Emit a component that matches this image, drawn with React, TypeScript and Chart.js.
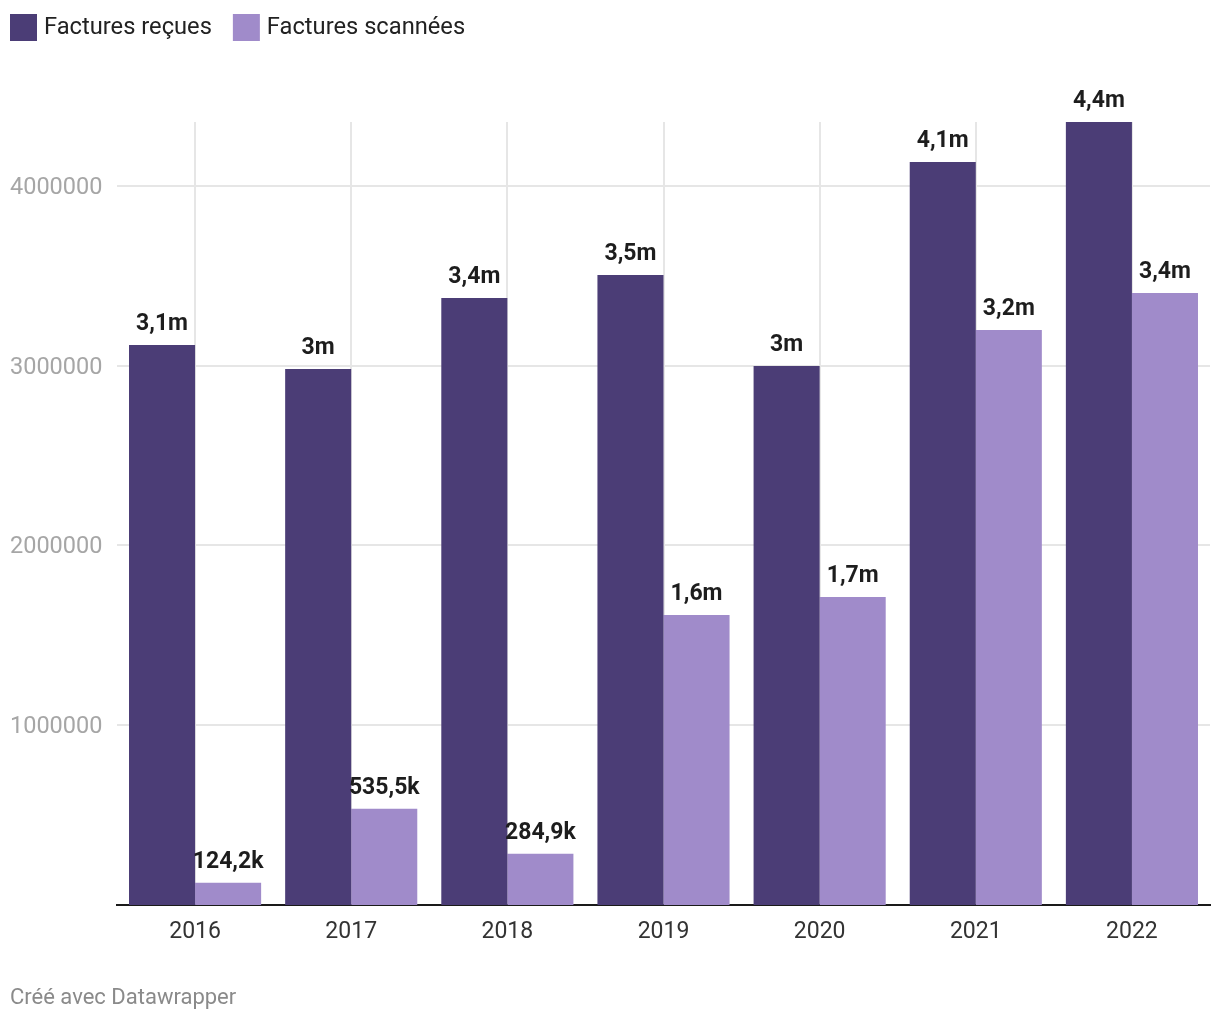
import React, { useEffect, useRef } from 'react';
import { Chart, registerables } from 'chart.js';

Chart.register(...registerables);

const years = ['2016', '2017', '2018', '2019', '2020', '2021', '2022'];
const received = [3115000, 2982000, 3377000, 3505000, 2999000, 4134000, 4356000];
const scanned = [124200, 535500, 284900, 1613000, 1713000, 3199000, 3405000];
const yTicks = [1000000, 2000000, 3000000, 4000000];
const seriesNames = ['Factures reçues', 'Factures scannées'];
const seriesColors = ['#4b3d76', '#a08bca'];
const footerText = 'Créé avec Datawrapper';

const FONT = 'Roboto, "Noto Sans", sans-serif';

function fmt(v: number): string {
  const big = v >= 1e6;
  let s = (big ? v / 1e6 : v / 1e3).toFixed(1);
  if (s.endsWith('.0')) s = s.slice(0, -2);
  return s.replace('.', ',') + (big ? 'm' : 'k');
}

const labelPlugin = {
  id: 'dwLabels',
  afterDatasetsDraw(chart: any) {
    const ctx = chart.ctx;
    ctx.save();
    ctx.font = `bold 23px ${FONT}`;
    ctx.fillStyle = '#1d1d1d';
    ctx.textAlign = 'center';
    ctx.textBaseline = 'alphabetic';
    chart.data.datasets.forEach((ds: any, i: number) => {
      const meta = chart.getDatasetMeta(i);
      meta.data.forEach((el: any, j: number) => {
        const v = ds.data[j] as number;
        ctx.fillText(fmt(v), el.x, el.y - 15);
      });
    });
    ctx.restore();
  },
};

const legendFooterPlugin = {
  id: 'dwLegendFooter',
  afterDraw(chart: any) {
    const ctx = chart.ctx;
    ctx.save();
    ctx.font = `23.7px ${FONT}`;
    ctx.textBaseline = 'middle';
    ctx.textAlign = 'left';
    let x = 10;
    chart.data.datasets.forEach((ds: any) => {
      ctx.fillStyle = ds.backgroundColor;
      ctx.fillRect(x, 14, 27, 27);
      ctx.fillStyle = '#222222';
      ctx.fillText(ds.label, x + 34, 28.5);
      x += 34 + ctx.measureText(ds.label).width + 21;
    });
    ctx.font = `22px ${FONT}`;
    ctx.fillStyle = '#8a8a8a';
    ctx.fillText(footerText, 10, 998);
    ctx.restore();
  },
};

export default function App() {
  const ref = useRef<HTMLCanvasElement | null>(null);

  useEffect(() => {
    document.body.style.margin = '0';
    if (!ref.current) return;
    const chart = new Chart(ref.current, {
      type: 'bar',
      data: {
        labels: years,
        datasets: [
          {
            label: seriesNames[0],
            data: received,
            backgroundColor: seriesColors[0],
            borderWidth: 0,
            barPercentage: 1,
            categoryPercentage: 132 / 156,
          },
          {
            label: seriesNames[1],
            data: scanned,
            backgroundColor: seriesColors[1],
            borderWidth: 0,
            barPercentage: 1,
            categoryPercentage: 132 / 156,
          },
        ],
      },
      options: {
        responsive: false,
        animation: false,
        events: [],
        layout: { padding: { left: 10, right: 10, top: 122, bottom: 65 } },
        plugins: {
          legend: { display: false },
          tooltip: { enabled: false },
          title: { display: false },
        },
        scales: {
          x: {
            grid: {
              offset: false,
              color: '#e6e6e6',
              lineWidth: 2,
              drawTicks: false,
            },
            border: { display: true, color: '#1a1a1a', width: 2 },
            ticks: {
              color: '#333333',
              font: { family: FONT, size: 23 },
              padding: 13,
            },
            afterFit: (s: any) => {
              s.height = 50;
            },
          },
          y: {
            min: 0,
            max: Math.max(...received),
            afterBuildTicks: (s: any) => {
              s.ticks = yTicks.map((v) => ({ value: v }));
            },
            grid: { color: '#e6e6e6', lineWidth: 2, drawTicks: false },
            border: { display: false },
            ticks: {
              crossAlign: 'far',
              color: '#a6a6a6',
              font: { family: FONT, size: 23.5 },
              labelOffset: 2,
              callback: (v: any) => String(v),
            },
            afterFit: (s: any) => {
              s.width = 107;
            },
          },
        },
      },
      plugins: [labelPlugin, legendFooterPlugin],
    } as any);
    return () => chart.destroy();
  }, []);

  return (
    <div style={{ width: 1220, height: 1020, background: '#ffffff' }}>
      <canvas ref={ref} width={1220} height={1020} style={{ display: 'block' }} />
    </div>
  );
}
